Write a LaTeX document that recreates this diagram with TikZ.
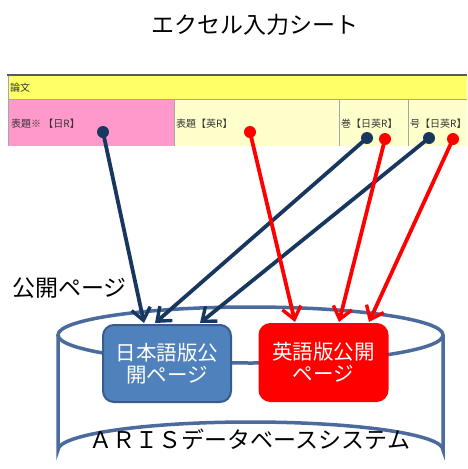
\documentclass[tikz,border=0pt]{standalone}
\usepackage{fontspec}
\setmainfont{Noto Sans CJK JP}
\usetikzlibrary{arrows.meta}
\definecolor{navy}{HTML}{17375E}
\definecolor{cylblue}{HTML}{4A6B9C}
\definecolor{jpfill}{HTML}{4F81BD}
\definecolor{jpedge}{HTML}{385D8A}
\definecolor{pinkc}{HTML}{FF99CC}
\definecolor{lyel}{HTML}{FFFFCC}
\definecolor{yel}{HTML}{FFFF66}
\tikzset{
  cell/.style={draw=gray!70, line width=0.8pt},
  celltext/.style={anchor=west, font=\fontsize{10}{11}\selectfont, text=black!80, inner sep=0pt},
  jpdot/.style={circle, fill=navy, inner sep=0pt, minimum size=12pt},
  endot/.style={circle, fill=red, inner sep=0pt, minimum size=12pt},
  jparrow/.style={draw=navy, line width=3.8pt, -{Straight Barb[length=12pt,width=19pt,line width=3.4pt]}},
  enarrow/.style={draw=red, line width=3.8pt, -{Straight Barb[length=12pt,width=19pt,line width=3.4pt]}},
  pagebox/.style={rounded corners=11pt, line width=2pt, minimum width=128pt, minimum height=77pt, align=center, text=white, font=\fontsize{20.5}{22}\selectfont, inner sep=0pt},
  bigtext/.style={font=\fontsize{23}{26}\selectfont, inner sep=0pt}
}
\begin{document}
\begin{tikzpicture}[x=1pt,y=-1pt]
\useasboundingbox (0,0) rectangle (467,469);
\begin{scope}
\clip (0,0) rectangle (467,469);
% title
\node[bigtext] (title) at (255,25) {エクセル入力シート};
% spreadsheet
\fill[yel] (8,75) rectangle (467,99);
\fill[pinkc] (8,99) rectangle (174,146);
\fill[lyel] (174,99) rectangle (467,146);
\draw[cell] (8,99) -- (467,99);
\draw[cell] (174,99) -- (174,146);
\draw[cell] (339,99) -- (339,146);
\draw[cell] (408,99) -- (408,146);
\draw[cell] (8,75) -- (8,146);
\draw[draw=gray!70!black, line width=2pt] (7,75) -- (467,75);
\node[celltext] (ronbun) at (10,88) {論文};
\node[celltext] (c1) at (11,124) {表題※ 【日R】};
\node[celltext] (c2) at (176,124) {表題【英R】};
\node[celltext] (c3) at (341,124) {巻【日英R】};
\node[celltext] (c4) at (410,124) {号【日英R】};
% cylinder
\draw[cylblue, line width=3.5pt, fill=white] (58,335) -- (58,450) arc[start angle=180, end angle=360, x radius=192.5, y radius=28] -- (443,335);
\draw[cylblue, line width=3.5pt] (250.5,335) ellipse[x radius=192.5, y radius=28];
% pages
\node[pagebox, fill=jpfill, draw=jpedge] (jp) at (167,363.5) {日本語版公\\開ページ};
\node[pagebox, fill=red, draw=red] (en) at (323.5,362.5) {英語版公開\\ページ};
\node[bigtext] (aris) at (250,439) {ＡＲＩＳデータベースシステム};
\node[bigtext, anchor=west] (kokai) at (12,288) {公開ページ};
% dots
\node[jpdot] (d1) at (103,132) {};
\node[endot] (d2) at (250,132) {};
\node[jpdot] (d3) at (367,138) {};
\node[endot] (d4) at (385,139) {};
\node[jpdot] (d5) at (429,138) {};
\node[endot] (d6) at (453,139) {};
\coordinate (t1) at (144,323);
\coordinate (t2) at (155,323);
\coordinate (t3) at (200,323);
\coordinate (t4) at (295,322);
\coordinate (t5) at (339,322);
\coordinate (t6) at (369,322);
\draw[jparrow] (d1.center) -- (t1);
\draw[jparrow] (d3.center) -- (t2);
\draw[jparrow] (d5.center) -- (t3);
\draw[enarrow] (d2.center) -- (t4);
\draw[enarrow] (d4.center) -- (t5);
\draw[enarrow] (d6.center) -- (t6);
\end{scope}
\end{tikzpicture}
\end{document}
